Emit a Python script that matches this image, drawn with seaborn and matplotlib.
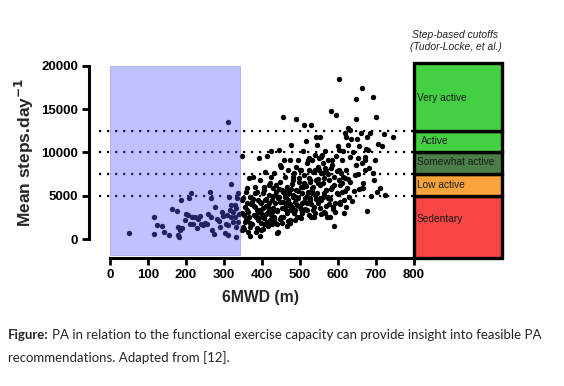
import matplotlib
matplotlib.use("Agg")
import matplotlib.pyplot as plt
from matplotlib.patches import Rectangle
import seaborn as sns
import pandas as pd

# ---- data ----
x_values = [
    51, 116, 116, 124, 138, 143, 156, 164, 177, 178, 179, 182, 184, 187, 189, 197, 199, 206, 208, 210,
    213, 216, 219, 225, 228, 232, 237, 239, 245, 251, 256, 259, 263, 266, 266, 270, 275, 276, 282, 286,
    289, 295, 299, 303, 305, 308, 311, 311, 312, 314, 316, 318, 320, 320, 323, 325, 328, 329, 331, 331,
    333, 335, 337, 338, 339,
    347, 347, 349, 351, 352, 355, 359, 361, 363, 366, 368, 370, 372, 375, 377, 379, 381, 382, 386, 388,
    389, 391, 393, 395, 396, 398, 400, 402, 403, 405, 407, 409, 411, 412, 414, 416, 418, 419, 421, 423,
    425, 426, 428, 430, 432, 433, 435, 437, 439, 440, 442, 444, 446, 447, 449, 451, 453, 454, 456, 456,
    458, 460, 461, 463, 465, 467, 468, 470, 472, 474, 475, 477, 479, 481, 482, 484, 486, 488, 489, 489,
    491, 493, 495, 496, 498, 500, 502, 504, 505, 507, 509, 511, 511, 512, 514, 516, 518, 519, 521, 523,
    525, 526, 528, 530, 530, 532, 533, 535, 537, 539, 540, 542, 544, 546, 547, 549, 551, 553, 554, 556,
    558, 560, 561, 563, 565, 567, 568, 570, 572, 574, 575, 577, 579, 581, 582, 584, 586, 588, 589, 591,
    593, 595, 596, 598, 600, 602, 604, 604, 605, 607, 609, 611, 612, 614, 616, 618, 619, 621, 623, 625,
    626, 628, 630, 632, 633, 636, 640, 645, 647, 649, 650, 654, 656, 660, 663, 665, 667, 671, 671, 675,
    677, 680, 685, 693, 695, 697, 702, 704, 706, 710, 716, 722, 725, 746,
    351, 360, 347, 355, 368, 364, 382, 386, 395, 399, 408, 417, 421, 430, 439, 443, 447, 456, 465, 469,
    474, 482, 487, 491, 500, 504, 509, 518, 522, 526, 531, 535, 539, 548, 553, 557, 561, 566, 570,
    390, 398, 405, 410, 415, 420, 425, 430, 435, 440, 445, 450, 455, 460, 465, 470, 475, 480, 485, 490,
    495, 500, 505, 510, 515, 520, 525, 530, 535, 540, 545, 550, 555, 560, 565, 570, 575, 580, 585, 590,
    600, 610, 620, 360, 370, 380, 385, 395, 402, 362, 373, 384, 353, 357, 413, 423, 433, 443, 453, 463,
    473, 483, 493, 503, 513, 523, 533, 543, 553, 563, 573, 583, 593, 603, 613, 623, 633, 643, 653, 663,
    673, 683, 693, 367, 377, 387, 397, 407, 417, 427, 437, 447, 457, 467, 477, 487, 497, 507, 517, 527,
    537, 547, 557, 567, 577, 587, 597, 607, 617, 627, 637, 647, 657, 667, 677, 687,
]
y_values = [
    730, 2580, 620, 1580, 1540, 810, 500, 3490, 3260, 1410, 450, 230, 1040, 4510, 1220, 2150, 2920, 2730, 4700, 1770,
    5280, 2540, 1690, 2540, 1310, 2350, 2690, 1770, 1620, 1810, 1770, 2850, 5470, 4780, 2500, 1000, 540, 3680, 2270, 2080,
    1430, 3150, 2690, 690, 1770, 2730, 460, 13560, 1580, 4890, 3330, 2580, 6350, 3950, 1960, 3150, 3910, 2580, 190, 1430,
    3530, 4700, 1960, 5280, 2920,
    9540, 1040, 4510, 1430, 2730, 3680, 5470, 2230, 3140, 7080, 380, 4890, 4040, 1770, 7200, 2730, 6050, 3680, 1230, 5470,
    4510, 3140, 9420, 6810, 380, 4120, 2580, 5280, 3530, 6050, 1700, 7780, 4580, 2850, 9540, 3720, 6240, 5080, 2230, 10120,
    7200, 3140, 4510, 5860, 2580, 7590, 4120, 5470, 3330, 1770, 810, 4890, 10320, 6620, 4310, 8360, 3530, 5670, 14140, 2580,
    9130, 4890, 7200, 3910, 6050, 2960, 7980, 4510, 5360, 9130, 2190, 10900, 3720, 6810, 5080, 7590, 3140, 4310, 13830, 8360,
    5670, 2580, 9130, 4700, 7010, 3720, 6050, 7980, 2960, 5280, 10120, 13210, 7400, 4310, 6240, 11360, 8740, 3330, 5470, 7980,
    9330, 4510, 6810, 13210, 2580, 9130, 5860, 7780, 3720, 9720, 5080, 11750, 6810, 10900, 8360, 4120, 9330, 6240, 11750, 7590,
    9720, 4890, 8740, 3140, 7010, 10120, 5670, 7980, 2580, 9130, 4700, 6810, 2580, 8170, 14780, 6050, 9130, 3720, 1500, 7200,
    3140, 14290, 9540, 5280, 10700, 7980, 18440, 10320, 4310, 6240, 7590, 9130, 5470, 10120, 4510, 12230, 7010, 3720, 11750, 5860,
    10900, 12820, 4890, 9520, 12620, 11560, 10060, 7400, 13910, 16230, 11560, 9330, 10700, 12230, 5860, 17500, 5860, 9130, 7980, 10440,
    11810, 10320, 12230, 16420, 6810, 9130, 14100, 5470, 10980, 5860, 10790, 12140, 5090, 11750,
    4700, 4120, 2970, 2000, 1420, 840, 5280, 2580, 3350, 1040, 4510, 1810, 6440, 3550, 660, 4890, 8550, 2580, 5660, 3930,
    1810, 7200, 3350, 4890, 7980, 2390, 6050, 4120, 9130, 6620, 5280, 3350, 7980, 6440, 4700, 9520, 7590, 2970, 5660,
    2200, 3000, 2400, 3800, 1500, 4200, 2800, 5000, 1900, 3200, 5800, 2600, 4300, 3500, 5100, 2100, 4000, 6300, 3000, 4600,
    5500, 2500, 4200, 6500, 3500, 5000, 7000, 4000, 6000, 3000, 5300, 8000, 4500, 6500, 5000, 3800, 7500, 4600, 8500, 6200,
    5200, 6500, 5600, 3400, 1900, 3800, 800, 4300, 1200, 5900, 4300, 2600, 1100, 2400, 2000, 3300, 2200, 4700, 1800, 4100,
    3300, 4800, 3900, 3500, 4700, 2800, 5600, 4600, 3600, 5300, 4900, 5800, 4200, 6800, 7200, 8000, 6600, 5500, 7500, 8800,
    9500, 8200, 7600, 2600, 4600, 3300, 1900, 5700, 3100, 1700, 6200, 2300, 5400, 1500, 5800, 2200, 6600, 3100, 6100, 4700,
    2600, 6900, 2900, 8200, 4100, 3500, 7900, 4000, 3000, 6900, 4400, 8600, 5800, 6500, 3200, 5000,
]
cutoff_labels = ["Sedentary", "Low active", "Somewhat active", "Active", "Very active"]
cutoff_low = [-2200, 5000, 7500, 10000, 12500]
cutoff_high = [5000, 7500, 10000, 12500, 20350]
cutoff_colors = ["#f54545", "#f9a33d", "#4a7f48", "#43d143", "#43d143"]
dotted_levels = [5000, 7500, 10000, 12500]
x_ticks = [0, 100, 200, 300, 400, 500, 600, 700, 800]
y_ticks = [0, 5000, 10000, 15000, 20000]
shade_x = (0, 342)
shade_y = (-1850, 20000)

df = pd.DataFrame({"6MWD": x_values, "steps": y_values})

sns.set_theme(style="ticks")
plt.rcParams["font.family"] = ["Liberation Sans", "DejaVu Sans"]

fig = plt.figure(figsize=(5.64, 3.86), dpi=100)
ax = fig.add_axes([0.158, 0.3316, 0.737, 0.5087])

ax.set_xlim(-55, 1040)
ax.set_ylim(-2196, 20500)

for lv in dotted_levels:
    ax.plot([-30, 800], [lv, lv], color="black", linestyle=(0, (1, 2.6)), lw=1.6, zorder=1)

sns.scatterplot(data=df, x="6MWD", y="steps", color="black", s=15, linewidth=0, ax=ax, zorder=2, legend=False)

ax.add_patch(Rectangle((shade_x[0], shade_y[0]), shade_x[1] - shade_x[0], shade_y[1] - shade_y[0],
                       facecolor=(0.36, 0.36, 1.0), alpha=0.38, edgecolor=(0.3, 0.3, 0.8), lw=0.6, zorder=3))

# step-based cutoff boxes
label_y = {"Sedentary": 2300, "Low active": 6240, "Somewhat active": 8900,
           "Active": 11330, "Very active": 16300}
for lab, lo, hi, col in zip(cutoff_labels, cutoff_low, cutoff_high, cutoff_colors):
    ax.add_patch(Rectangle((800, lo), 232, hi - lo, facecolor=col, edgecolor="black", lw=2.4,
                           zorder=4, clip_on=False))
    xoff = 820 if lab == "Active" else 808
    ax.text(xoff, label_y[lab], lab, fontsize=7.3, color="#1a1a1a", va="center", ha="left", zorder=5)

ax.text(910, 22900, "Step-based cutoffs\n(Tudor-Locke, et al.)", fontsize=7.4, style="italic",
        ha="center", va="center", color="#222222", linespacing=1.3)

for s in ["top", "right"]:
    ax.spines[s].set_visible(False)
for s in ["left", "bottom"]:
    ax.spines[s].set_linewidth(2.2)
    ax.spines[s].set_color("black")
ax.spines["left"].set_bounds(0, 20000)
ax.spines["bottom"].set_bounds(0, 800)
ax.set_xticks(x_ticks)
ax.set_yticks(y_ticks)
ax.tick_params(axis="both", length=5, width=2.0, colors="black", labelsize=9.5, pad=3)
for lbl in ax.get_xticklabels() + ax.get_yticklabels():
    lbl.set_fontweight("bold")
ax.set_xlabel("")
ax.set_ylabel("")

fig.text(0.462, 0.228, "6MWD (m)", fontsize=11.3, fontweight="bold", ha="center", va="center")
fig.text(0.043, 0.606, "Mean steps.day$^{\\mathbf{-1}}$", fontsize=12.5, fontweight="bold",
         rotation=90, ha="center", va="center")

# caption
cap_font = ["Lato", "DejaVu Sans"]
t1 = fig.text(0.014, 0.132, "Figure:", fontsize=9.5, fontweight="bold", family=cap_font, va="center")
fig.canvas.draw()
bb = t1.get_window_extent(renderer=fig.canvas.get_renderer())
x_after = (bb.x1 + 3) / fig.bbox.width
fig.text(x_after, 0.132, "PA in relation to the functional exercise capacity can provide insight into feasible PA",
         fontsize=9.5, family=cap_font, va="center")
fig.text(0.014, 0.075, "recommendations. Adapted from [12].", fontsize=9.5, family=cap_font, va="center")

fig.savefig("out.png", dpi=100)
